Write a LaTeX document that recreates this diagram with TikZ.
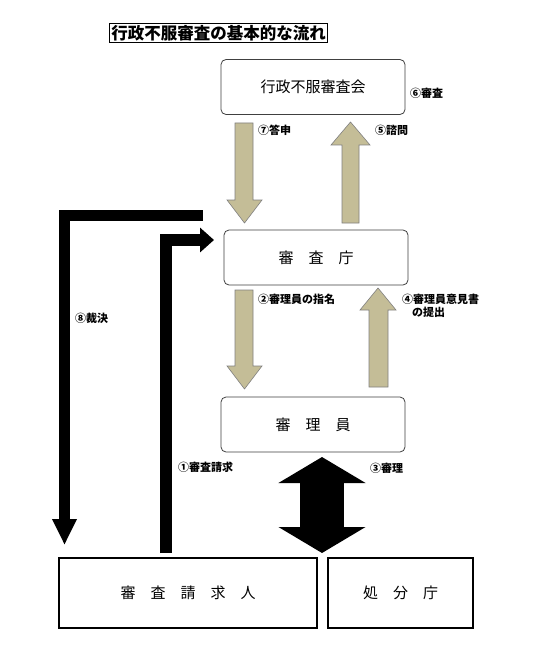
\documentclass[tikz,border=0pt]{standalone}
\usepackage{fontspec}
\newfontfamily\cjk{Noto Sans CJK JP}
\usetikzlibrary{arrows.meta}
\definecolor{khaki}{HTML}{C4BD97}
\definecolor{kedge}{HTML}{808080}
\begin{document}
\begin{tikzpicture}[x=1pt,y=-1pt,
  rbox/.style={draw=black!75,line width=0.8pt,rounded corners=5pt,minimum width=184pt,minimum height=55pt,inner sep=0pt,font=\cjk\fontsize{15}{18}\selectfont},
  sbox/.style={draw=black,line width=1.2pt,minimum height=70pt,inner sep=0pt,font=\cjk\fontsize{15}{18}\selectfont},
  lbl/.style={anchor=west,inner sep=0pt,font=\cjk\bfseries\fontsize{11}{13}\selectfont},
  tarrow/.style={fill=khaki,draw=kedge,line width=0.6pt,line join=miter},
  barrow/.style={draw=black,line join=miter}
]
\useasboundingbox (0,0) rectangle (553,663);
\fill[white] (0,0) rectangle (553,663);
% title
\node[draw=black,line width=0.8pt,inner xsep=2pt,inner ysep=1.5pt,font=\cjk\bfseries\fontsize{16.5}{19}\selectfont] (title) at (218.5,33) {行政不服審査の基本的な流れ};
% boxes
\node[rbox] (kai) at (313,87) {行政不服審査会};
\node[rbox] (cho) at (316,257.5) {審　査　庁};
\node[rbox] (rin) at (313,424.5) {審　理　員};
\node[sbox,minimum width=258pt] (sei) at (188,593) {審　査　請　求　人};
\node[sbox,minimum width=145pt] (sho) at (400.5,593) {処　分　庁};
% khaki arrows
\path[tarrow] (235,123) -- (253,123) -- (253,200) -- (262,200) -- (244.5,223) -- (227,200) -- (235,200) -- cycle;
\path[tarrow] (342,223) -- (359,223) -- (359,145) -- (370,145) -- (350.5,122) -- (331,145) -- (342,145) -- cycle;
\path[tarrow] (235,290) -- (253,290) -- (253,366) -- (262,366) -- (244.5,389) -- (227,366) -- (235,366) -- cycle;
\path[tarrow] (369,387) -- (388,387) -- (388,310) -- (396,310) -- (378,288) -- (360,310) -- (369,310) -- cycle;
% black arrows
\coordinate (s8) at (203,215.5);
\coordinate (e8) at (64.5,545);
\draw[barrow,line width=11pt,-{Triangle[width=23pt,length=26pt]}] (s8) -- (64.5,215.5) -- (e8);
\coordinate (s1) at (166,553);
\coordinate (e1) at (214,240);
\draw[barrow,line width=12pt,-{Triangle[width=24pt,length=14pt]}] (s1) -- (166,240) -- (e1);
\coordinate (t3) at (322,457);
\coordinate (b3) at (322,553);
\draw[barrow,line width=44pt,{Triangle[width=86pt,length=26pt]}-{Triangle[width=86pt,length=26pt]}] (t3) -- (b3);
% labels
\node[lbl] (l6) at (410,93) {⑥審査};
\node[lbl] (l7) at (258,130) {⑦答申};
\node[lbl] (l5) at (375,130) {⑤諮問};
\node[lbl] (l2) at (258,299) {②審理員の指名};
\node[lbl,anchor=north west,align=left] (l4) at (402,293.5) {④審理員意見書\\\hspace*{0.9em}の提出};
\node[lbl] (l8) at (75,318) {⑧裁決};
\node[lbl] (l1) at (178,467) {①審査請求};
\node[lbl] (l3) at (370,468) {③審理};
\end{tikzpicture}
\end{document}
